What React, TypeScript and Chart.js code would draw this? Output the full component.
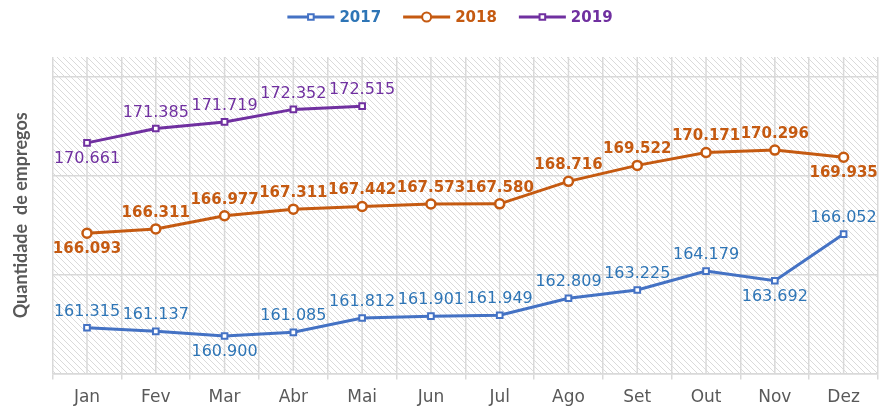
import React, { useEffect, useRef } from 'react';
import { Chart, registerables } from 'chart.js';
Chart.register(...registerables);

const months = ['Jan', 'Fev', 'Mar', 'Abr', 'Mai', 'Jun', 'Jul', 'Ago', 'Set', 'Out', 'Nov', 'Dez'];
const series2017 = [161.315, 161.137, 160.9, 161.085, 161.812, 161.901, 161.949, 162.809, 163.225, 164.179, 163.692, 166.052];
const series2018 = [166.093, 166.311, 166.977, 167.311, 167.442, 167.573, 167.58, 168.716, 169.522, 170.171, 170.296, 169.935];
const series2019 = [170.661, 171.385, 171.719, 172.352, 172.515, null, null, null, null, null, null, null];
const gridValues = [159, 164, 169, 174];
const yMin = 159;
const yMax = 175;

// label placement (styling): 'a' = above, 'b' = below
const labelPos2017 = ['a', 'a', 'b', 'a', 'a', 'a', 'a', 'a', 'a', 'a', 'b', 'a'];
const labelPos2018 = ['b', 'a', 'a', 'a', 'a', 'a', 'a', 'a', 'a', 'a', 'a', 'b'];
const labelPos2019 = ['b', 'a', 'a', 'a', 'a'];

const FONT = "'DejaVu Sans', Verdana, sans-serif";
const GRID = '#d9d9d9';

const seriesStyle = [
  { label: '2017', line: '#4472C4', text: '#2E75B6', bold: false, style: 'rect', radius: 4, pos: labelPos2017 },
  { label: '2018', line: '#C55A11', text: '#C55A11', bold: true, style: 'circle', radius: 4.5, pos: labelPos2018 },
  { label: '2019', line: '#7030A0', text: '#7030A0', bold: false, style: 'rect', radius: 4, pos: labelPos2019 },
];

export default function App() {
  const ref = useRef<HTMLCanvasElement>(null);

  useEffect(() => {
    const canvas = ref.current!;
    const pc = document.createElement('canvas');
    pc.width = 6;
    pc.height = 6;
    const p = pc.getContext('2d')!;
    p.fillStyle = '#ffffff';
    p.fillRect(0, 0, 6, 6);
    p.strokeStyle = '#dadada';
    p.lineWidth = 1;
    p.beginPath();
    p.moveTo(-1, -1);
    p.lineTo(7, 7);
    p.stroke();

    const bgPlugin = {
      id: 'bgHatch',
      beforeDraw(chart: any) {
        const { ctx, chartArea } = chart;
        const pat = ctx.createPattern(pc, 'repeat');
        ctx.save();
        ctx.fillStyle = pat;
        ctx.fillRect(chartArea.left, chartArea.top, chartArea.right - chartArea.left, chartArea.bottom - chartArea.top);
        ctx.restore();
      },
    };

    const centerLines = {
      id: 'centerLines',
      beforeDatasetsDraw(chart: any) {
        const { ctx, chartArea } = chart;
        const xs = chart.scales.x;
        ctx.save();
        ctx.strokeStyle = GRID;
        ctx.lineWidth = 1.5;
        months.forEach((_, i) => {
          const x = xs.getPixelForValue(i);
          ctx.beginPath();
          ctx.moveTo(x, chartArea.top);
          ctx.lineTo(x, chartArea.bottom);
          ctx.stroke();
        });
        ctx.restore();
      },
    };

    const labelsPlugin = {
      id: 'valueLabels',
      afterDatasetsDraw(chart: any) {
        const { ctx } = chart;
        ctx.save();
        ctx.textAlign = 'center';
        ctx.textBaseline = 'middle';
        chart.data.datasets.forEach((ds: any, di: number) => {
          const st = seriesStyle[di];
          const meta = chart.getDatasetMeta(di);
          ctx.fillStyle = st.text;
          ctx.font = `${st.bold ? 'bold ' : ''}${st.bold ? 15 : 16}px ${FONT}`;
          meta.data.forEach((pt: any, i: number) => {
            const v = ds.data[i];
            if (v === null || v === undefined) return;
            const off = st.pos[i] === 'b' ? 16 : -16;
            ctx.fillText(v.toFixed(3), pt.x, pt.y + off);
          });
        });
        ctx.restore();
      },
    };

    const legendPlugin = {
      id: 'customLegend',
      afterDraw(chart: any) {
        const { ctx } = chart;
        ctx.save();
        ctx.font = `bold 15px ${FONT}`;
        ctx.textBaseline = 'middle';
        const lineW = 47;
        const gap = 5;
        const itemGap = 22;
        const widths = seriesStyle.map((s) => lineW + gap + ctx.measureText(s.label).width);
        const total = widths.reduce((a, b) => a + b, 0) + itemGap * (widths.length - 1);
        let x = 450 - total / 2;
        const y = 17;
        seriesStyle.forEach((s, i) => {
          ctx.strokeStyle = s.line;
          ctx.lineWidth = 3;
          ctx.beginPath();
          ctx.moveTo(x, y);
          ctx.lineTo(x + lineW, y);
          ctx.stroke();
          const cx = x + lineW / 2;
          ctx.fillStyle = '#ffffff';
          ctx.lineWidth = 2;
          ctx.beginPath();
          if (s.style === 'circle') {
            ctx.arc(cx, y, 4.5, 0, Math.PI * 2);
          } else {
            ctx.rect(cx - 2.8, y - 2.8, 5.6, 5.6);
          }
          ctx.fill();
          ctx.stroke();
          ctx.fillStyle = s.text;
          ctx.textAlign = 'left';
          ctx.fillText(s.label, x + lineW + gap, y + 1);
          x += widths[i] + itemGap;
        });
        ctx.restore();
      },
    };

    const datasets = [series2017, series2018, series2019].map((d, i) => {
      const s = seriesStyle[i];
      return {
        label: s.label,
        data: d,
        borderColor: s.line,
        backgroundColor: '#ffffff',
        borderWidth: 3,
        pointStyle: s.style,
        pointRadius: s.radius,
        pointBorderWidth: s.style === 'circle' ? 2.5 : 2,
        pointBackgroundColor: '#ffffff',
        pointBorderColor: s.line,
        tension: 0,
        spanGaps: false,
      };
    });

    const chart = new Chart(canvas, {
      type: 'line',
      data: { labels: months, datasets: datasets as any },
      options: {
        animation: false,
        responsive: false,
        layout: { padding: { top: 57, right: 0, bottom: -10, left: 0 } },
        plugins: {
          legend: { display: false },
          tooltip: { enabled: false },
        },
        scales: {
          x: {
            offset: true,
            grid: { offset: true, color: GRID, lineWidth: 1.5, tickLength: 6 },
            border: { color: GRID, width: 1.5 },
            ticks: { color: '#595959', font: { family: FONT, size: 17 }, padding: 8 },
          },
          y: {
            min: yMin,
            max: yMax,
            afterBuildTicks: (scale: any) => {
              scale.ticks = gridValues.map((v) => ({ value: v }));
            },
            ticks: { display: false },
            grid: { color: GRID, lineWidth: 1.5, drawTicks: false },
            border: { display: false },
            title: {
              display: true,
              text: 'Quantidade  de empregos',
              color: '#595959',
              font: { family: 'Lato, sans-serif', size: 18, weight: 'bold' },
              padding: { top: 10, bottom: 21 },
            },
          },
        },
      } as any,
      plugins: [bgPlugin, centerLines, labelsPlugin, legendPlugin],
    });
    return () => chart.destroy();
  }, []);

  return (
    <div style={{ position: 'fixed', left: 0, top: 0, width: 881, height: 406, overflow: 'hidden', background: '#ffffff' }}>
      <canvas ref={ref} width={885} height={406} />
    </div>
  );
}
